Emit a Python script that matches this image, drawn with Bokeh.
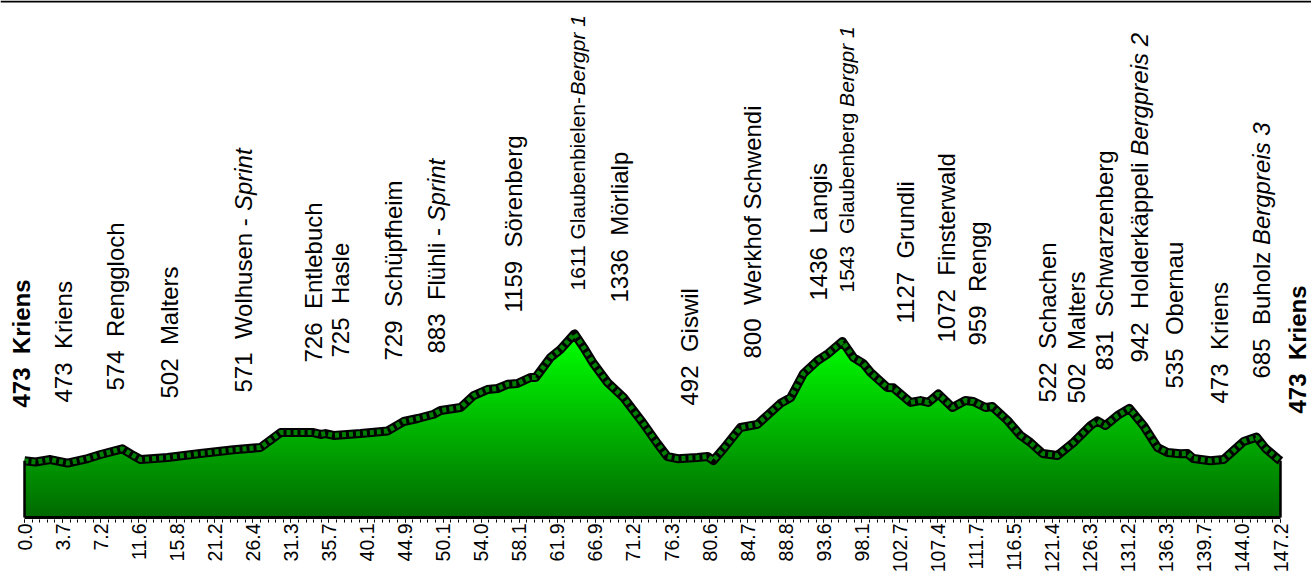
import numpy as np
from bokeh.plotting import figure
from bokeh.models import FixedTicker, Span, ColumnDataSource
from bokeh.core.properties import value
from bokeh.embed import file_html
from bokeh.resources import INLINE

# ---------------- data ----------------
tick_km = ["0.0", "3.7", "7.2", "11.6", "15.8", "21.2", "26.4", "31.3", "35.7", "40.1",
           "44.9", "50.1", "54.0", "58.1", "61.9", "66.9", "71.2", "76.3", "80.6", "84.7",
           "88.8", "93.6", "98.1", "102.7", "107.4", "111.7", "116.5", "121.4", "126.3",
           "131.2", "136.3", "139.7", "144.0", "147.2"]

# profile positions in tick slots (one slot per labelled distance) and elevation (m)
profile_pos = [0.00, 0.29, 0.68, 1.13, 1.66, 2.00, 2.57, 2.86, 3.05, 3.76, 4.62, 5.49, 6.20,
               6.73, 7.59, 7.78, 7.91, 8.12, 8.83, 9.54, 9.96, 10.33, 10.75, 10.93, 11.46,
               11.80, 12.16, 12.43, 12.69, 12.95, 13.29, 13.43, 13.82, 14.08, 14.45, 14.69,
               14.95, 15.32, 15.74, 16.26, 16.63, 16.89, 17.16, 17.68, 17.95, 18.10, 18.37,
               18.81, 19.26, 19.86, 20.13, 20.47, 20.84, 21.12, 21.49, 21.78, 22.04, 22.23,
               22.67, 22.83, 23.28, 23.54, 23.75, 24.01, 24.38, 24.72, 24.93, 25.25, 25.43,
               25.83, 26.17, 26.43, 26.75, 27.14, 27.56, 28.01, 28.19, 28.40, 28.72, 29.03,
               29.40, 29.77, 30.03, 30.37, 30.56, 30.71, 31.16, 31.50, 31.77, 32.03, 32.37,
               32.61, 32.92, 33.00]
profile_elev = [473, 462, 484, 452, 493, 529, 580, 520, 484, 502, 538, 571, 592,
                726, 726, 709, 717, 700, 717, 740, 825, 852, 890, 924, 951,
                1058, 1112, 1121, 1159, 1166, 1220, 1220, 1399, 1471, 1611, 1489,
                1345, 1175, 1040, 807, 628, 511, 492, 502, 511, 475, 583,
                771, 800, 987, 1040, 1256, 1372, 1436, 1543, 1399, 1345, 1265,
                1130, 1127, 996, 1013, 996, 1072, 951, 1013, 1004, 951, 959,
                834, 700, 637, 538, 520, 637, 789, 831, 789, 879, 942,
                789, 592, 547, 535, 538, 493, 473, 484, 565, 646, 685,
                583, 493, 473]

wp_elev = [473, 473, 574, 502, 571, 726, 725, 729, 883, 1159, 1611, 1336, 492, 800,
           1436, 1543, 1127, 1072, 959, 522, 502, 831, 942, 535, 473, 685, 473]
wp_name = ["Kriens", "Kriens", "Renggloch", "Malters", "Wolhusen - ", "Entlebuch", "Hasle",
           "Schüpfheim", "Flühli - ", "Sörenberg", "Glaubenbielen-", "Mörlialp", "Giswil",
           "Werkhof Schwendi", "Langis", "Glaubenberg ", "Grundli", "Finsterwald", "Rengg",
           "Schachen", "Malters", "Schwarzenberg", "Holderkäppeli ", "Obernau", "Kriens",
           "Buholz ", "Kriens"]
wp_note = ["", "", "", "", "Sprint", "", "", "", "Sprint", "", "Bergpr 1", "", "", "",
           "", "Bergpr 1", "", "", "", "", "", "", "Bergpreis 2", "", "", "Bergpreis 3", ""]
wp_pos = [-0.08, 1.02, 2.39, 3.81, 5.75, 7.59, 8.30, 9.70, 10.83, 12.85, 14.53, 15.63,
          17.47, 19.13, 20.86, 21.60, 23.15, 24.22, 25.04, 26.88, 27.64, 28.38, 29.30,
          30.22, 31.40, 32.50, 33.45]

# ---------------- layout / style ----------------
W, H = 1311, 577
X0_PX, X1_PX = 24, 1280          # pixel of first / last tick
FRAME_BOTTOM = 519               # frame bottom pixel
ZERO_PX = 517                    # pixel of 0 m
PX_PER_M = 0.1115
label_base_px = [407, 402, 390, 398, 392, 362, 357, 360, 353, 312, 290, 302, 405, 358,
                 300, 292, 323, 342, 345, 402, 403, 370, 362, 388, 403, 378, 413]
label_bold = [True] + [False] * 25 + [True]
label_size = [24.0] * 27
label_size[10] = 21
label_size[15] = 21

n_slots = len(tick_km) - 1
px_per_slot = (X1_PX - X0_PX) / n_slots
x_start = -X0_PX / px_per_slot
x_end = n_slots + (W - X1_PX) / px_per_slot
y_start = -(FRAME_BOTTOM - ZERO_PX) / PX_PER_M
y_end = y_start + FRAME_BOTTOM / PX_PER_M

FONT = "Liberation Sans"
AW = {' ': 278, '\u00a0': 278, '-': 333, '.': 278, 'B': 667, 'E': 667, 'F': 611,
      'G': 778, 'H': 722, 'K': 667, 'L': 556, 'M': 833, 'O': 778, 'R': 722, 'S': 667,
      'W': 944, 'a': 556, 'b': 556, 'c': 500, 'd': 556, 'e': 556, 'f': 278, 'g': 556,
      'h': 556, 'i': 222, 'k': 500, 'l': 222, 'm': 833, 'n': 556, 'o': 556, 'p': 556,
      'r': 333, 's': 500, 't': 278, 'u': 556, 'w': 722, 'z': 500, 'ä': 556, 'ö': 556,
      'ü': 556}


def text_px(s, size):
    return sum(AW.get(ch, 556) for ch in s) * size / 1000.0


p = figure(width=W, height=H, x_range=(x_start, x_end), y_range=(y_start, y_end),
           output_backend="svg", toolbar_location=None, y_axis_location=None,
           min_border_left=0, min_border_right=0, min_border_top=0,
           min_border_bottom=H - FRAME_BOTTOM)
p.grid.visible = False
p.outline_line_color = None
p.background_fill_color = "white"
p.border_fill_color = "white"

# gradient fill, built as stacked layers of the profile area
xs_p = np.array(profile_pos, dtype=float)
ys_p = np.array(profile_elev, dtype=float)


def area_above(level):
    ox, oy = [], []
    for i in range(len(xs_p)):
        if i > 0:
            a, b = ys_p[i - 1], ys_p[i]
            if (a - level) * (b - level) < 0:
                t = (level - a) / (b - a)
                ox.append(xs_p[i - 1] + t * (xs_p[i] - xs_p[i - 1]))
                oy.append(level)
        ox.append(xs_p[i])
        oy.append(max(ys_p[i], level))
    return np.array(ox), np.array(oy)


top_m = max(profile_elev)
n_layers = 70
for k in range(n_layers):
    lev = top_m * k / n_layers
    frac = min(1.0, (lev + top_m / n_layers / 2) / top_m)
    g = int(round(105 + 150 * frac))
    if k == 0:
        ox, oy = xs_p, ys_p
        lev = 0.0
    else:
        ox, oy = area_above(lev)
    p.varea(x=ox, y1=np.full(len(ox), lev), y2=oy, fill_color=(0, g, 0))

# outline of the profile: band above the terrain
off = 4 / PX_PER_M
p.line(xs_p, ys_p + off, line_color="black", line_width=9, line_join="round")
p.line(xs_p, ys_p + off, line_color="#008000", line_width=5, line_dash="4 3")
p.line([xs_p[0], xs_p[0]], [0, ys_p[0] + off], line_color="black", line_width=2.5)
p.line([xs_p[-1], xs_p[-1]], [0, ys_p[-1] + off], line_color="black", line_width=2.5)
p.line([xs_p[0], xs_p[-1]], [0, 0], line_color="black", line_width=3)

# top rule
p.add_layout(Span(location=y_end - 1 / PX_PER_M, dimension="width",
                  line_color="black", line_width=2))

# waypoint labels
lx, ly, lt, ls, lf = [], [], [], [], []
for i in range(len(wp_name)):
    sep = " " if i == 10 else "\u00a0 "
    main = f"{wp_elev[i]}{sep}{wp_name[i]}"
    base_m = (ZERO_PX - label_base_px[i]) / PX_PER_M
    lx.append(wp_pos[i]); ly.append(base_m); lt.append(main.rstrip())
    ls.append(f"{label_size[i]}px"); lf.append("bold" if label_bold[i] else "normal")
    if wp_note[i]:
        lx.append(wp_pos[i])
        ly.append(base_m + text_px(main, label_size[i]) / PX_PER_M)
        lt.append(wp_note[i]); ls.append(f"{label_size[i]}px"); lf.append("italic")
src = ColumnDataSource(dict(x=lx, y=ly, text=lt, size=ls, style=lf))
p.text(x="x", y="y", text="text", source=src, angle=np.pi / 2, text_align="left",
       text_baseline="middle", text_font=value(FONT), text_font_size="size",
       text_font_style="style", text_color="black")

# x axis
ax = p.xaxis[0]
ax.ticker = FixedTicker(ticks=list(range(len(tick_km))),
                        minor_ticks=[i / 5 for i in range(n_slots * 5 + 1)])
ax.major_label_overrides = {i: s for i, s in enumerate(tick_km)}
ax.major_label_orientation = np.pi / 2
ax.axis_line_color = None
ax.major_tick_line_color = "black"
ax.minor_tick_line_color = "black"
ax.major_tick_in = 0
ax.major_tick_out = 3
ax.minor_tick_in = 0
ax.minor_tick_out = 3
ax.major_label_standoff = 1
ax.major_label_text_font = FONT
ax.major_label_text_font_size = "19.5px"
ax.major_label_text_color = "black"

open("out.html", "w").write(file_html(p, INLINE))
